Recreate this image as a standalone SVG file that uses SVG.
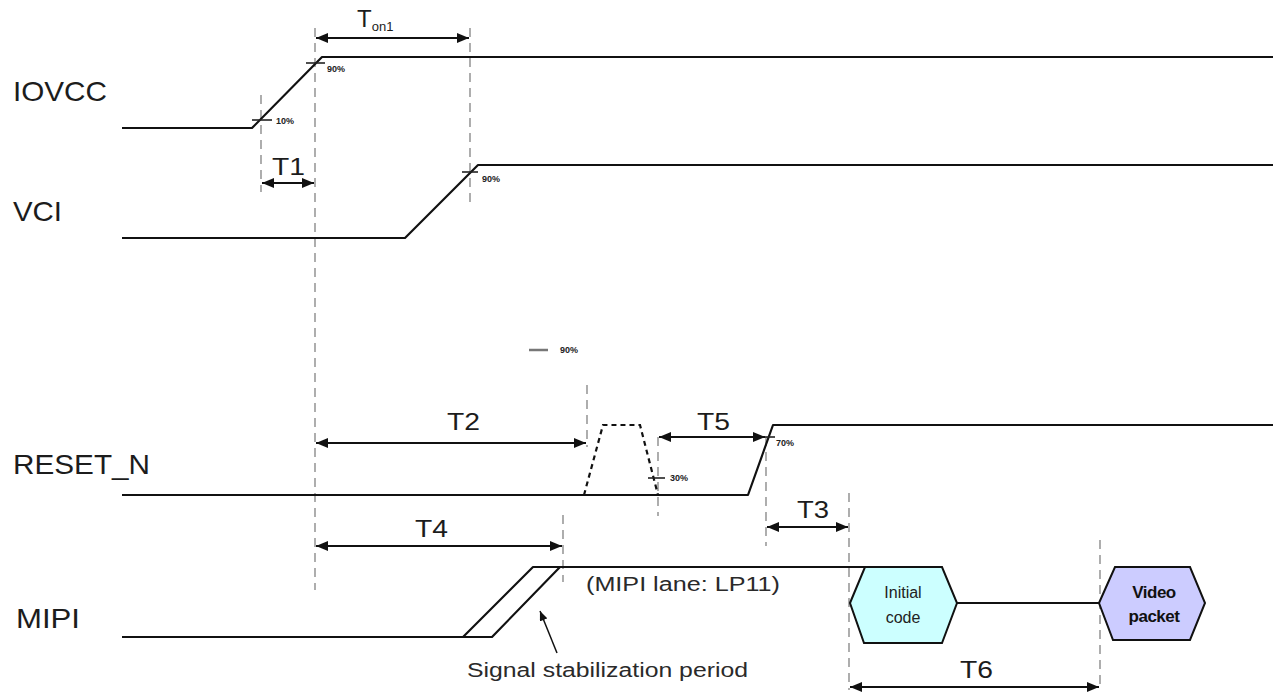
<svg xmlns="http://www.w3.org/2000/svg" width="1273" height="693" viewBox="0 0 1273 693">
<style>
.sig{fill:none;stroke:#111;stroke-width:2.2;stroke-linejoin:round}
.dash{fill:none;stroke:#9a9a9a;stroke-width:1.6;stroke-dasharray:9,6}
.pulse{fill:none;stroke:#111;stroke-width:2.2;stroke-dasharray:5,4}
.tick{stroke:#222;stroke-width:1.6}
.arr{stroke:#111;stroke-width:1.8;marker-start:url(#ah);marker-end:url(#ah)}
.lbl{font-family:"Liberation Sans",Arial,sans-serif;font-size:28px;fill:#1c1c1c}
.tl{font-family:"Liberation Sans",Arial,sans-serif;font-size:24px;fill:#1c1c1c}
.pct{font-family:"Liberation Sans",Arial,sans-serif;font-size:9px;fill:#222;font-weight:bold}
.note{font-family:"Liberation Sans",Arial,sans-serif;font-size:20px;fill:#2a2a2a}
.hx{font-family:"Liberation Sans",Arial,sans-serif;font-size:16px;fill:#222;text-anchor:middle}
.hxb{font-family:"Liberation Sans",Arial,sans-serif;font-size:17px;fill:#111;text-anchor:middle;font-weight:bold;letter-spacing:-0.5px}
</style>
<defs>
<marker id="ah" viewBox="0 0 12 10" refX="12" refY="5" markerWidth="12" markerHeight="10" markerUnits="userSpaceOnUse" orient="auto-start-reverse">
<path d="M0,0 L12,5 L0,10 Z" fill="#111"/>
</marker>
<marker id="ah2" viewBox="0 0 12 10" refX="12" refY="5" markerWidth="10" markerHeight="8" markerUnits="userSpaceOnUse" orient="auto">
<path d="M0,0 L12,5 L0,10 Z" fill="#111"/>
</marker>
</defs>
<rect width="1273" height="693" fill="#fff"/>

<g id="guides">
<line class="dash" x1="261" y1="95" x2="261" y2="192"/>
<line class="dash" x1="315" y1="28" x2="315" y2="590"/>
<line class="dash" x1="470" y1="28" x2="470" y2="202"/>
<line class="dash" x1="587" y1="385" x2="587" y2="447"/>
<line class="dash" x1="658" y1="437" x2="658" y2="516"/>
<line class="dash" x1="766" y1="437" x2="766" y2="546"/>
<line class="dash" x1="563" y1="515" x2="563" y2="582"/>
<line class="dash" x1="849" y1="493" x2="849" y2="690"/>
<line class="dash" x1="1100" y1="540" x2="1100" y2="690"/>
</g>

<g id="iovcc">
<text class="lbl" x="13" y="101" textLength="94" lengthAdjust="spacingAndGlyphs">IOVCC</text>
<polyline class="sig" points="122,128 252,128 322,57 1273,57"/>
<line class="tick" x1="252" y1="120" x2="272" y2="120"/>
<text class="pct" x="276" y="124">10%</text>
<line class="tick" x1="306" y1="63" x2="325" y2="63"/>
<text class="pct" x="327" y="72">90%</text>
</g>

<g id="vci">
<text class="lbl" x="13" y="221" textLength="49" lengthAdjust="spacingAndGlyphs">VCI</text>
<polyline class="sig" points="122,238 405,238 478,165 1273,165"/>
<line class="tick" x1="462" y1="172" x2="478" y2="172"/>
<text class="pct" x="482" y="182">90%</text>
</g>

<g id="floating90">
<line x1="529" y1="350" x2="548" y2="350" stroke="#777" stroke-width="2.5"/>
<text class="pct" x="560" y="353">90%</text>
</g>

<g id="reset_n">
<text class="lbl" x="13" y="474" textLength="137" lengthAdjust="spacingAndGlyphs">RESET_N</text>
<polyline class="sig" points="122,495 748,495 773,425 1273,425"/>
<polyline class="pulse" points="584,495 603,425 640,425 658,495"/>
<line class="tick" x1="648" y1="478" x2="665" y2="478"/>
<text class="pct" x="670" y="481">30%</text>
<line class="tick" x1="755" y1="437" x2="775" y2="437"/>
<text class="pct" x="776" y="446">70%</text>
</g>

<g id="mipi">
<text class="lbl" x="16" y="628" textLength="64" lengthAdjust="spacingAndGlyphs">MIPI</text>
<polyline class="sig" points="122,637 463,637"/>
<polygon class="sig" points="463,637 492,637 560,567 533,567"/>
<polyline class="sig" points="560,567 865,567"/>
<polyline class="sig" points="957,603 1099,603"/>
<text class="note" x="586" y="591" textLength="194" lengthAdjust="spacingAndGlyphs">(MIPI lane: LP11)</text>
<line x1="557" y1="653" x2="540" y2="611" stroke="#111" stroke-width="1.5" marker-end="url(#ah2)"/>
<text class="note" x="467" y="677" textLength="281" lengthAdjust="spacingAndGlyphs">Signal stabilization period</text>
</g>

<g id="initial_code">
<polygon points="850,603 865,567 942,567 957,603 942,643 864,643" fill="#ccffff" stroke="#111" stroke-width="2"/>
<text class="hx" x="903" y="598">Initial</text>
<text class="hx" x="903" y="623">code</text>
</g>

<g id="video_packet">
<polygon points="1099,603 1115,567 1190,567 1205,603 1190,640 1113,640" fill="#ccccff" stroke="#111" stroke-width="2"/>
<text class="hxb" x="1154" y="598">Video</text>
<text class="hxb" x="1154" y="622">packet</text>
</g>

<g id="connectors">
<line class="arr" x1="316" y1="38" x2="469" y2="38"/>
<line class="arr" x1="262" y1="183" x2="314" y2="183"/>
<line class="arr" x1="316" y1="443" x2="586" y2="443"/>
<line class="arr" x1="659" y1="437" x2="765" y2="437"/>
<line class="arr" x1="767" y1="527" x2="848" y2="527"/>
<line class="arr" x1="316" y1="546" x2="562" y2="546"/>
<line class="arr" x1="850" y1="687" x2="1099" y2="687"/>
</g>

<g id="timing_labels">
<text class="tl" x="357" y="27">T<tspan font-size="13" dy="4">on1</tspan></text>
<text class="tl" x="272" y="175" textLength="33" lengthAdjust="spacingAndGlyphs">T1</text>
<text class="tl" x="447" y="430" textLength="33" lengthAdjust="spacingAndGlyphs">T2</text>
<text class="tl" x="697" y="430" textLength="33" lengthAdjust="spacingAndGlyphs">T5</text>
<text class="tl" x="797" y="518" textLength="32" lengthAdjust="spacingAndGlyphs">T3</text>
<text class="tl" x="415" y="537" textLength="33" lengthAdjust="spacingAndGlyphs">T4</text>
<text class="tl" x="960" y="678" textLength="33" lengthAdjust="spacingAndGlyphs">T6</text>
</g>
</svg>
